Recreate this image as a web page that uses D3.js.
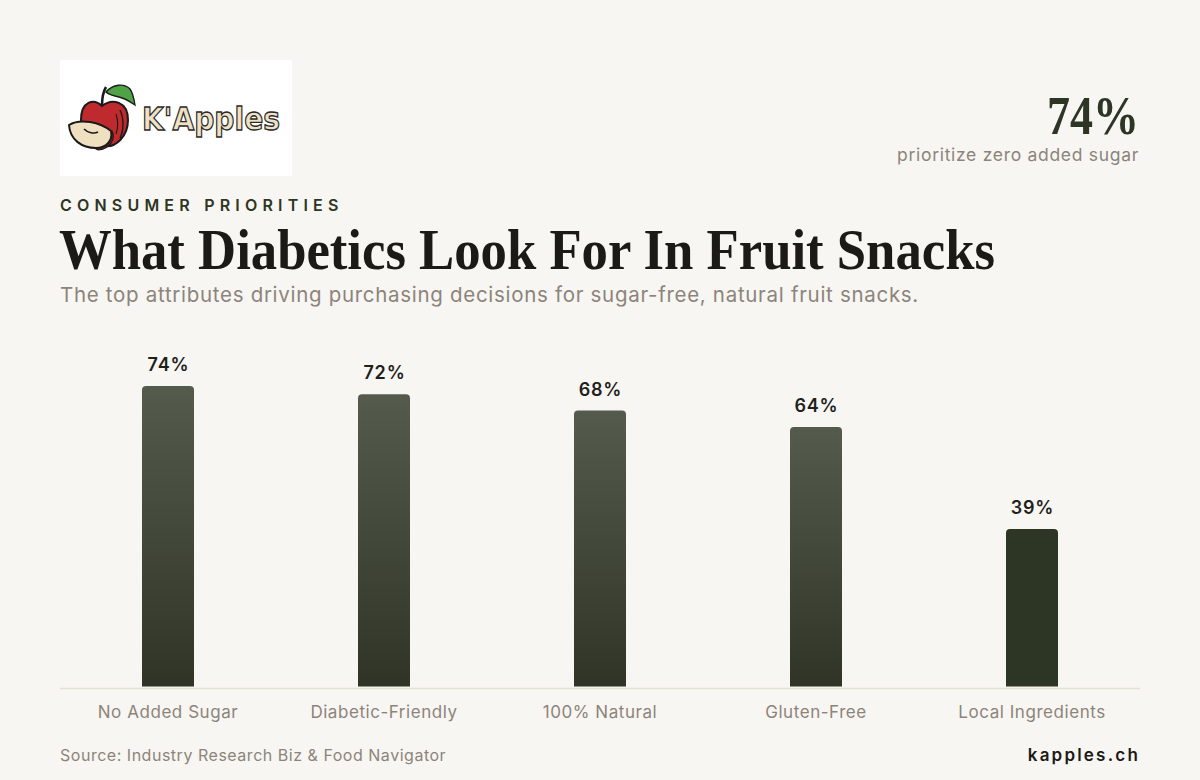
<!DOCTYPE html>
<html>
<head>
<meta charset="utf-8">
<script src="https://cdn.jsdelivr.net/npm/d3@7"></script>
<style>
  html, body { margin: 0; padding: 0; background: #f8f6f2; }
  svg { display: block; }
</style>
</head>
<body>
<div id="chart"></div>
<script>
// chart data
const categories = ["No Added Sugar", "Diabetic-Friendly", "100% Natural", "Gluten-Free", "Local Ingredients"];
const values = [74, 72, 68, 64, 39];
const highlightValue = 74;

const width = 1200, height = 780;
const sans = "Inter, 'Noto Sans', sans-serif";
const serif = "'Liberation Serif', 'DejaVu Serif', serif";

const svg = d3.select("#chart").append("svg")
  .attr("width", width)
  .attr("height", height);

svg.append("rect").attr("width", width).attr("height", height).attr("fill", "#f8f6f2");

const defs = svg.append("defs");
const grad = defs.append("linearGradient")
  .attr("id", "barGrad").attr("x1", 0).attr("y1", 0).attr("x2", 0).attr("y2", 1);
grad.append("stop").attr("offset", "0%").attr("stop-color", "#545b4c");
grad.append("stop").attr("offset", "100%").attr("stop-color", "#2f3427");

// ---- logo box
const logo = svg.append("g").attr("transform", "translate(60,60)");
logo.append("rect").attr("width", 232).attr("height", 116).attr("fill", "#ffffff");

const ink = "#1a1a1a";
// leaf + stem behind body
logo.append("path")
  .attr("d", "M 46 32 C 53 24 64 23 70 29 C 73 33 74 39 75 45 C 68 40 61 37 55 36 C 51 35 48 34 46 32 Z")
  .attr("fill", "#4fa246").attr("stroke", ink).attr("stroke-width", 1.3);
logo.append("path").attr("d", "M 42 46 C 42 38 43 32 46 27")
  .attr("fill", "none").attr("stroke", ink).attr("stroke-width", 2.5);
// apple body
logo.append("path")
  .attr("d", "M 42 46 C 34 38 21 41 21 60 C 21 76 32 88 44 86 C 56 88 68 76 68 60 C 68 41 52 38 42 46 Z")
  .attr("fill", "#bf2a2e").attr("stroke", ink).attr("stroke-width", 2);
logo.append("path").attr("d", "M 60 50 C 64 58 64 70 60 78")
  .attr("fill", "none").attr("stroke", ink).attr("stroke-width", 1.4);
logo.append("path").attr("d", "M 56 54 C 58 60 58 68 56 74")
  .attr("fill", "none").attr("stroke", ink).attr("stroke-width", 1.1);
// slice
logo.append("path")
  .attr("d", "M 52 71 C 56 79 50 89 38 90 L 34 88 C 46 87 52 81 50 72 Z")
  .attr("fill", "#8a1f22").attr("stroke", ink).attr("stroke-width", 1.2);
logo.append("path")
  .attr("d", "M 9 65 C 20 58 40 62 51 71 C 53 81 46 88 36 88 C 22 88 10 80 9 65 Z")
  .attr("fill", "#efe0c0").attr("stroke", ink).attr("stroke-width", 2);
logo.append("path").attr("d", "M 24 69 C 28 73 34 74 38 72")
  .attr("fill", "none").attr("stroke", ink).attr("stroke-width", 1.6);

logo.append("text")
  .attr("x", 82).attr("y", 70)
  .attr("font-family", "'DejaVu Sans', sans-serif")
  .attr("font-weight", "bold")
  .attr("font-size", 32)
  .attr("fill", "#efe1c3")
  .attr("stroke", "#2a2a2a").attr("stroke-width", 1.3)
  .attr("textLength", 138).attr("lengthAdjust", "spacingAndGlyphs")
  .text("K'Apples");

// ---- header stat
svg.append("text")
  .attr("x", 1139).attr("y", 134)
  .attr("text-anchor", "end")
  .attr("font-family", serif).attr("font-weight", "bold")
  .attr("font-size", 55).attr("fill", "#2d3524")
  .attr("textLength", 92).attr("lengthAdjust", "spacingAndGlyphs")
  .text(highlightValue + "%");
svg.append("text")
  .attr("x", 1139).attr("y", 161)
  .attr("text-anchor", "end")
  .attr("font-family", sans).attr("font-size", 17.5)
  .attr("letter-spacing", 0.7)
  .attr("fill", "#8c847b")
  .text("prioritize zero added sugar");

// ---- titles
svg.append("text")
  .attr("x", 60).attr("y", 211)
  .attr("font-family", sans).attr("font-weight", 600)
  .attr("font-size", 16).attr("letter-spacing", 5.2)
  .attr("fill", "#2d3524")
  .text("CONSUMER PRIORITIES");

svg.append("text")
  .attr("x", 59).attr("y", 269)
  .attr("font-family", serif).attr("font-weight", "bold")
  .attr("font-size", 56).attr("fill", "#1c1a17")
  .attr("textLength", 936).attr("lengthAdjust", "spacingAndGlyphs")
  .text("What Diabetics Look For In Fruit Snacks");

svg.append("text")
  .attr("x", 60).attr("y", 302)
  .attr("font-family", sans).attr("font-size", 20.5)
  .attr("letter-spacing", 0.7)
  .attr("fill", "#8c847b")
  .text("The top attributes driving purchasing decisions for sugar-free, natural fruit snacks.");

// ---- chart
const x = d3.scaleBand().domain(categories).range([60, 1140]);
const y = d3.scaleLinear().domain([0, 100]).range([688, 280]);
const barW = 52;

const bars = svg.append("g");
const data = categories.map((c, i) => ({ c, v: values[i], i }));

function topRounded(x0, y0, w, h, r) {
  return `M${x0},${y0 + h} V${y0 + r} Q${x0},${y0} ${x0 + r},${y0} H${x0 + w - r} Q${x0 + w},${y0} ${x0 + w},${y0 + r} V${y0 + h} Z`;
}

bars.selectAll("path.bar").data(data).join("path")
  .attr("class", "bar")
  .attr("d", d => topRounded(x(d.c) + x.bandwidth() / 2 - barW / 2, y(d.v), barW, y(0) - 1.5 - y(d.v), 4))
  .attr("fill", d => d.i === data.length - 1 ? "#2d3624" : "url(#barGrad)");

bars.selectAll("text.val").data(data).join("text")
  .attr("class", "val")
  .attr("x", d => x(d.c) + x.bandwidth() / 2 + 0.5)
  .attr("y", d => y(d.v) - 15)
  .attr("text-anchor", "middle")
  .attr("font-family", sans).attr("font-weight", 600)
  .attr("font-size", 18).attr("letter-spacing", 0.8)
  .attr("fill", "#1f1f1c")
  .text(d => d.v + "%");

// baseline
svg.append("line")
  .attr("x1", 60).attr("x2", 1140)
  .attr("y1", y(0) + 0.5).attr("y2", y(0) + 0.5)
  .attr("stroke", "#e6dfd3").attr("stroke-width", 1.5);

const xAxis = svg.append("g")
  .attr("transform", `translate(0,${y(0)})`)
  .call(d3.axisBottom(x).tickSize(0).tickPadding(18));
xAxis.select(".domain").remove();
xAxis.selectAll("text")
  .attr("font-family", sans).attr("font-size", 17)
  .attr("letter-spacing", 0.55)
  .attr("fill", "#8c847b");

// ---- footer
svg.append("text")
  .attr("x", 60).attr("y", 761)
  .attr("font-family", sans).attr("font-size", 16)
  .attr("letter-spacing", 0.52)
  .attr("fill", "#8c847b")
  .text("Source: Industry Research Biz & Food Navigator");

svg.append("text")
  .attr("x", 1140).attr("y", 761)
  .attr("text-anchor", "end")
  .attr("font-family", sans).attr("font-weight", 600)
  .attr("font-size", 17).attr("letter-spacing", 2.2)
  .attr("fill", "#1c1a17")
  .text("kapples.ch");
</script>
</body>
</html>
